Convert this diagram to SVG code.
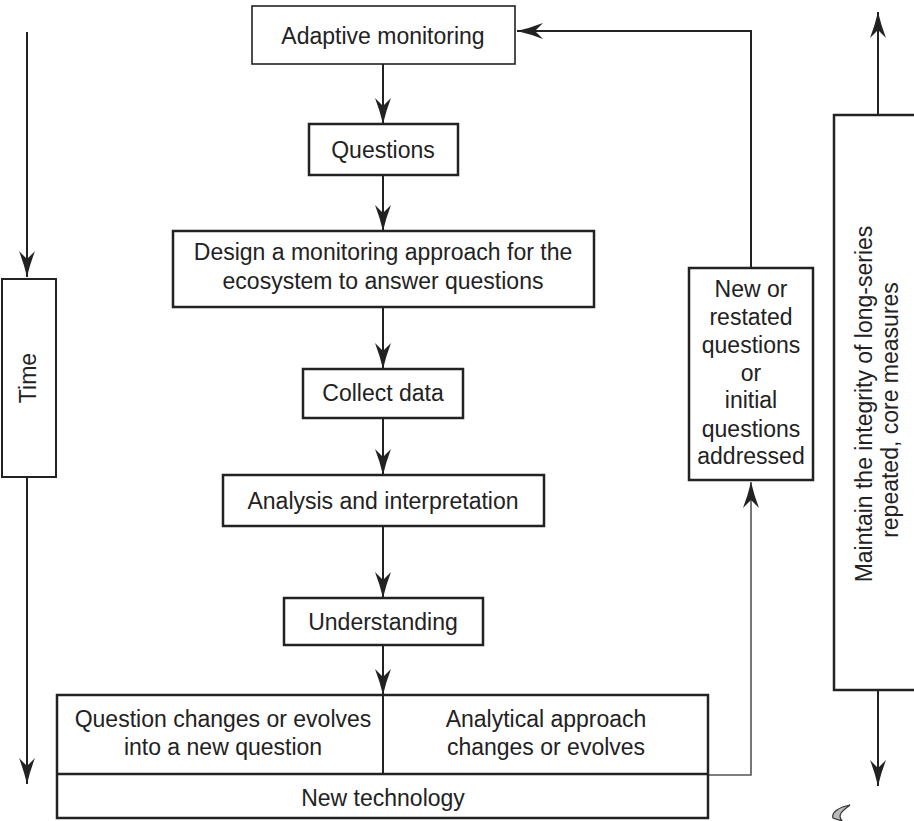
<svg xmlns="http://www.w3.org/2000/svg" width="914" height="821" viewBox="0 0 914 821">
<style>
.box{fill:#fff;stroke:#222;stroke-width:2.5}
.t{font-family:"Liberation Sans",Arial,sans-serif;font-size:23px;fill:#222;text-anchor:middle}
.c{fill:none;stroke:#222;stroke-width:2}
.g{fill:none;stroke:#555;stroke-width:1.6}
</style>
<defs>
<marker id="ah" viewBox="-28 -10 30 20" refX="0" refY="0" markerWidth="30" markerHeight="20" markerUnits="userSpaceOnUse" orient="auto">
<path d="M0,0 Q-13,-3 -26,-8 L-18,0 L-26,8 Q-13,3 0,0 Z" fill="#222"/>
</marker>
</defs>
<rect width="914" height="821" fill="#fff"/>
<g id="connectors">
<line class="c" x1="383" y1="64" x2="383" y2="124" marker-end="url(#ah)"/>
<line class="c" x1="383" y1="175" x2="383" y2="231" marker-end="url(#ah)"/>
<line class="c" x1="383" y1="307" x2="383" y2="369" marker-end="url(#ah)"/>
<line class="c" x1="383" y1="418" x2="383" y2="475" marker-end="url(#ah)"/>
<line class="c" x1="383" y1="526" x2="383" y2="598" marker-end="url(#ah)"/>
<line class="c" x1="383" y1="645" x2="383" y2="695" marker-end="url(#ah)"/>
<line class="c" x1="27" y1="32" x2="27" y2="277" marker-end="url(#ah)"/>
<line class="c" x1="27" y1="477" x2="27" y2="784" marker-end="url(#ah)"/>
<polyline class="g" points="709,775 751,775 751,482" marker-end="url(#ah)"/>
<polyline class="c" points="751,268 751,31 517,31" marker-end="url(#ah)"/>
<line class="c" x1="878" y1="115" x2="878" y2="12" marker-end="url(#ah)"/>
<line class="c" x1="878" y1="690" x2="878" y2="786" marker-end="url(#ah)"/>
</g>
<g id="adaptive">
<rect class="box" x="252" y="6" width="263" height="58" style="stroke-width:1.6"/>
<text class="t" x="383" y="44">Adaptive monitoring</text>
</g>
<g id="questions">
<rect class="box" x="309" y="124" width="149" height="51"/>
<text class="t" x="383" y="158">Questions</text>
</g>
<g id="design">
<rect class="box" x="173" y="231" width="421" height="76"/>
<text class="t" x="383" y="260">Design a monitoring approach for the</text>
<text class="t" x="383" y="289">ecosystem to answer questions</text>
</g>
<g id="collect">
<rect class="box" x="303" y="369" width="160" height="49"/>
<text class="t" x="383" y="401">Collect data</text>
</g>
<g id="analysis">
<rect class="box" x="223" y="475" width="321" height="51"/>
<text class="t" x="383" y="509">Analysis and interpretation</text>
</g>
<g id="understanding">
<rect class="box" x="284" y="598" width="199" height="47"/>
<text class="t" x="383" y="630">Understanding</text>
</g>
<g id="outcomes">
<rect class="box" x="57" y="695" width="651" height="123"/>
<line x1="57" y1="774" x2="708" y2="774" stroke="#222" stroke-width="2.5"/>
<line x1="383" y1="695" x2="383" y2="774" stroke="#222" stroke-width="2"/>
<text class="t" x="223" y="727">Question changes or evolves</text>
<text class="t" x="223" y="755">into a new question</text>
<text class="t" x="546" y="727">Analytical approach</text>
<text class="t" x="546" y="755">changes or evolves</text>
<text class="t" x="383" y="806">New technology</text>
</g>
<g id="time">
<rect class="box" x="2" y="279" width="54" height="198" style="stroke-width:2"/>
<text class="t" transform="translate(36,378) rotate(-90)" x="0" y="0">Time</text>
</g>
<g id="newquestions">
<rect class="box" x="689" y="268" width="124" height="212"/>
<text class="t" x="751" y="297">New or</text>
<text class="t" x="751" y="325">restated</text>
<text class="t" x="751" y="353">questions</text>
<text class="t" x="751" y="381">or</text>
<text class="t" x="751" y="408">initial</text>
<text class="t" x="751" y="437">questions</text>
<text class="t" x="751" y="464">addressed</text>
</g>
<g id="maintain">
<rect class="box" x="834" y="115" width="100" height="575"/>
<text class="t" transform="translate(872,404) rotate(-90)" x="0" y="0">Maintain the integrity of long-series</text>
<text class="t" transform="translate(898,410) rotate(-90)" x="0" y="0">repeated, core measures</text>
</g>
<path d="M850,805 C840,807 831,812 833,818 L842,821 C837,815 842,811 850,805 Z" fill="#bbb" stroke="#333" stroke-width="1.2"/>
</svg>
